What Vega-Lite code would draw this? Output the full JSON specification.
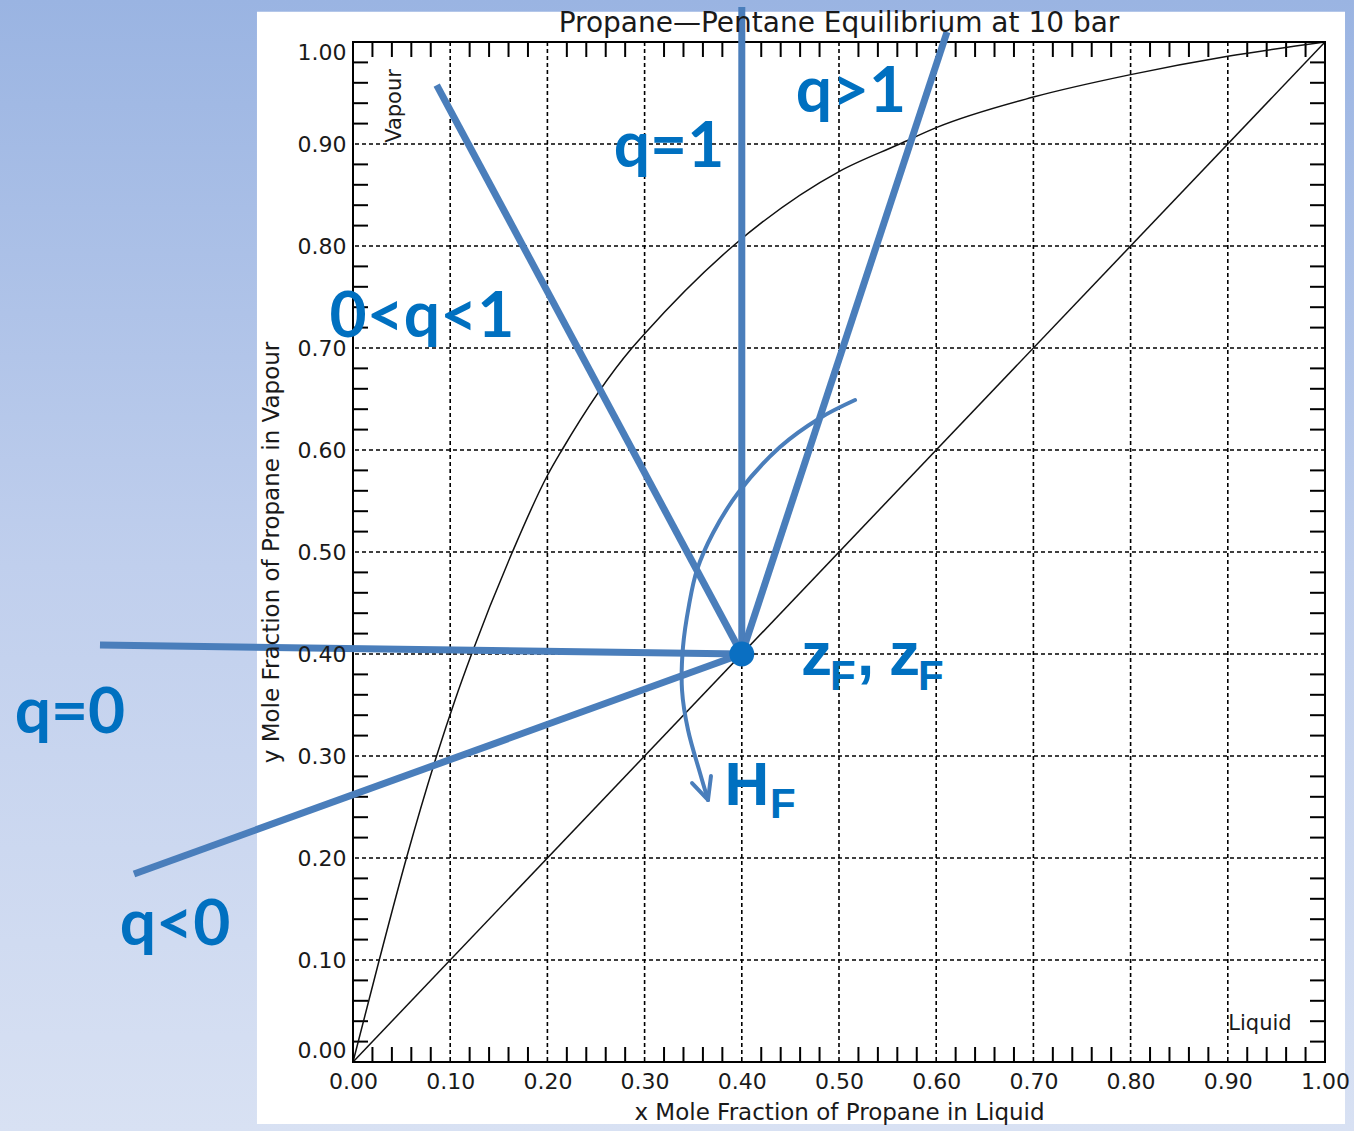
{
  "$schema": "https://vega.github.io/schema/vega-lite/v6.json",
  "width": 972,
  "height": 1020,
  "autosize": {"type": "none"},
  "padding": {"left": 353, "top": 42, "right": 29, "bottom": 69},
  "background": "#c2d1ee",
  "title": {
    "text": "Propane—Pentane Equilibrium at 10 bar",
    "font": "DejaVu Sans",
    "fontSize": 28,
    "fontWeight": "normal",
    "color": "#1a1a1a",
    "anchor": "middle",
    "frame": "group",
    "baseline": "alphabetic",
    "offset": -67,
    "zindex": 1
  },
  "config": {
    "view": {"stroke": null},
    "axis": {
      "domain": false,
      "ticks": false,
      "grid": false,
      "labelFont": "DejaVu Sans",
      "labelFontSize": 22,
      "labelColor": "#1a1a1a",
      "labelOverlap": false,
      "titleFont": "DejaVu Sans",
      "titleFontSize": 23,
      "titleFontWeight": "normal",
      "titleColor": "#1a1a1a",
      "zindex": 1
    }
  },
  "datasets": {
    "grid": [
      {"g": 0.1}, {"g": 0.2}, {"g": 0.3}, {"g": 0.4}, {"g": 0.5},
      {"g": 0.6}, {"g": 0.7}, {"g": 0.8}, {"g": 0.9}
    ],
    "minor": [
      {"t": 0.02}, {"t": 0.04}, {"t": 0.06}, {"t": 0.08},
      {"t": 0.12}, {"t": 0.14}, {"t": 0.16}, {"t": 0.18},
      {"t": 0.22}, {"t": 0.24}, {"t": 0.26}, {"t": 0.28},
      {"t": 0.32}, {"t": 0.34}, {"t": 0.36}, {"t": 0.38},
      {"t": 0.42}, {"t": 0.44}, {"t": 0.46}, {"t": 0.48},
      {"t": 0.52}, {"t": 0.54}, {"t": 0.56}, {"t": 0.58},
      {"t": 0.62}, {"t": 0.64}, {"t": 0.66}, {"t": 0.68},
      {"t": 0.72}, {"t": 0.74}, {"t": 0.76}, {"t": 0.78},
      {"t": 0.82}, {"t": 0.84}, {"t": 0.86}, {"t": 0.88},
      {"t": 0.92}, {"t": 0.94}, {"t": 0.96}, {"t": 0.98}
    ],
    "equilibrium": [
      {"curve": "diagonal", "x": 0, "y": 0},
      {"curve": "diagonal", "x": 1, "y": 1},
      {"curve": "vle", "x": 0, "y": 0},
      {"curve": "vle", "x": 0.027, "y": 0.1},
      {"curve": "vle", "x": 0.055, "y": 0.2},
      {"curve": "vle", "x": 0.086, "y": 0.3},
      {"curve": "vle", "x": 0.105, "y": 0.355},
      {"curve": "vle", "x": 0.122, "y": 0.4},
      {"curve": "vle", "x": 0.164, "y": 0.5},
      {"curve": "vle", "x": 0.2, "y": 0.575},
      {"curve": "vle", "x": 0.215, "y": 0.6},
      {"curve": "vle", "x": 0.287, "y": 0.7},
      {"curve": "vle", "x": 0.3, "y": 0.714},
      {"curve": "vle", "x": 0.391, "y": 0.8},
      {"curve": "vle", "x": 0.5, "y": 0.873},
      {"curve": "vle", "x": 0.5625, "y": 0.9},
      {"curve": "vle", "x": 0.6, "y": 0.916},
      {"curve": "vle", "x": 0.7, "y": 0.946},
      {"curve": "vle", "x": 0.8, "y": 0.968},
      {"curve": "vle", "x": 0.9, "y": 0.986},
      {"curve": "vle", "x": 1, "y": 1}
    ],
    "qlines": [
      {"q": "q=1", "o": 0, "x": 0.4, "y": 1.0343},
      {"q": "q=1", "o": 1, "x": 0.4, "y": 0.4},
      {"q": "q>1", "o": 0, "x": 0.6111, "y": 1.0098},
      {"q": "q>1", "o": 1, "x": 0.4, "y": 0.4},
      {"q": "0<q<1", "o": 0, "x": 0.0861, "y": 0.9578},
      {"q": "0<q<1", "o": 1, "x": 0.4, "y": 0.4},
      {"q": "q=0", "o": 0, "x": -0.2603, "y": 0.4088},
      {"q": "q=0", "o": 1, "x": 0.4, "y": 0.4},
      {"q": "q<0", "o": 0, "x": -0.2253, "y": 0.1843},
      {"q": "q<0", "o": 1, "x": 0.4, "y": 0.4}
    ],
    "arc": [
      {"o": 0, "x": 0.5165, "y": 0.649},
      {"o": 1, "x": 0.4805, "y": 0.6314},
      {"o": 2, "x": 0.4393, "y": 0.6029},
      {"o": 3, "x": 0.3961, "y": 0.5578},
      {"o": 4, "x": 0.3704, "y": 0.5186},
      {"o": 5, "x": 0.3539, "y": 0.4824},
      {"o": 6, "x": 0.3457, "y": 0.448},
      {"o": 7, "x": 0.3395, "y": 0.4069},
      {"o": 8, "x": 0.3385, "y": 0.3647},
      {"o": 9, "x": 0.3447, "y": 0.3255},
      {"o": 10, "x": 0.357, "y": 0.2833},
      {"o": 11, "x": 0.3652, "y": 0.2569}
    ],
    "arrowhead": [
      {"w": "a", "o": 0, "x": 0.3488, "y": 0.2735},
      {"w": "a", "o": 1, "x": 0.3652, "y": 0.2569},
      {"w": "b", "o": 0, "x": 0.3683, "y": 0.2804},
      {"w": "b", "o": 1, "x": 0.3652, "y": 0.2569}
    ],
    "feed": [{"x": 0.4, "y": 0.4}],
    "qlabels": [
      {"label": "q>1", "x": 0.5123, "y": 0.9314},
      {"label": "q=1", "x": 0.3251, "y": 0.8775},
      {"label": "0<q<1", "x": 0.071, "y": 0.7108},
      {"label": "q=0", "x": -0.2912, "y": 0.3225},
      {"label": "q<0", "x": -0.1831, "y": 0.1147}
    ],
    "feedletters": [
      {"label": "z", "x": 0.4609, "y": 0.3794},
      {"label": ",", "x": 0.5185, "y": 0.3794},
      {"label": "z", "x": 0.5514, "y": 0.3794},
      {"label": "H", "x": 0.3822, "y": 0.252}
    ],
    "subscripts": [
      {"label": "F", "x": 0.4907, "y": 0.3647},
      {"label": "F", "x": 0.5813, "y": 0.3647},
      {"label": "F", "x": 0.429, "y": 0.2392}
    ],
    "vapour": [{"label": "Vapour", "x": 0.0432, "y": 0.9373}],
    "liquid": [{"label": "Liquid", "x": 0.9331, "y": 0.0373}]
  },
  "layer": [
    {
      "description": "slide backdrop, exactly covering the canvas",
      "data": {"values": [{}]},
      "mark": {
        "type": "rect",
        "fill": {
          "gradient": "linear",
          "x1": 0, "y1": 0, "x2": 0, "y2": 1,
          "stops": [
            {"offset": 0, "color": "#9ab4e2"},
            {"offset": 0.5, "color": "#c0cfed"},
            {"offset": 1, "color": "#d8e1f3"}
          ]
        }
      },
      "encoding": {
        "x": {"datum": -0.3632, "type": "quantitative", "scale": {"domain": [0, 1], "nice": false}},
        "x2": {"datum": 1.0298},
        "y": {"datum": -0.0676, "type": "quantitative", "scale": {"domain": [0, 1], "nice": false}},
        "y2": {"datum": 1.0412}
      }
    },
    {
      "description": "white chart panel",
      "data": {"values": [{}]},
      "mark": {"type": "rect", "fill": "#ffffff"},
      "encoding": {
        "x": {"datum": -0.0988, "type": "quantitative", "scale": {"domain": [0, 1], "nice": false}},
        "x2": {"datum": 1.0206},
        "y": {"datum": -0.0608, "type": "quantitative", "scale": {"domain": [0, 1], "nice": false}},
        "y2": {"datum": 1.0297}
      }
    },
    {
      "data": {"name": "grid"},
      "mark": {"type": "rule", "color": "#000000", "strokeWidth": 1.6, "strokeDash": [4, 3]},
      "encoding": {
        "x": {"field": "g", "type": "quantitative", "scale": {"domain": [0, 1], "nice": false}}
      }
    },
    {
      "data": {"name": "grid"},
      "mark": {"type": "rule", "color": "#000000", "strokeWidth": 1.6, "strokeDash": [4, 3]},
      "encoding": {
        "y": {"field": "g", "type": "quantitative", "scale": {"domain": [0, 1], "nice": false}}
      }
    },
    {
      "data": {"name": "minor"},
      "mark": {"type": "tick", "orient": "vertical", "size": 15, "thickness": 2, "color": "#000000", "opacity": 1, "yOffset": -7.5},
      "encoding": {
        "x": {"field": "t", "type": "quantitative", "scale": {"domain": [0, 1], "nice": false}},
        "y": {"datum": 0, "type": "quantitative", "scale": {"domain": [0, 1], "nice": false}}
      }
    },
    {
      "data": {"name": "minor"},
      "mark": {"type": "tick", "orient": "vertical", "size": 15, "thickness": 2, "color": "#000000", "opacity": 1, "yOffset": 7.5},
      "encoding": {
        "x": {"field": "t", "type": "quantitative", "scale": {"domain": [0, 1], "nice": false}},
        "y": {"datum": 1, "type": "quantitative", "scale": {"domain": [0, 1], "nice": false}}
      }
    },
    {
      "data": {"name": "minor"},
      "mark": {"type": "tick", "orient": "horizontal", "size": 15, "thickness": 2, "color": "#000000", "opacity": 1, "xOffset": 7.5},
      "encoding": {
        "y": {"field": "t", "type": "quantitative", "scale": {"domain": [0, 1], "nice": false}},
        "x": {"datum": 0, "type": "quantitative", "scale": {"domain": [0, 1], "nice": false}}
      }
    },
    {
      "data": {"name": "minor"},
      "mark": {"type": "tick", "orient": "horizontal", "size": 15, "thickness": 2, "color": "#000000", "opacity": 1, "xOffset": -7.5},
      "encoding": {
        "y": {"field": "t", "type": "quantitative", "scale": {"domain": [0, 1], "nice": false}},
        "x": {"datum": 1, "type": "quantitative", "scale": {"domain": [0, 1], "nice": false}}
      }
    },
    {
      "description": "equilibrium curve and y = x diagonal; carries the axes",
      "data": {"name": "equilibrium"},
      "mark": {"type": "line", "color": "#111111", "strokeWidth": 1.5, "interpolate": "monotone"},
      "encoding": {
        "x": {
          "field": "x", "type": "quantitative",
          "scale": {"domain": [0, 1], "nice": false},
          "title": "x Mole Fraction of Propane in Liquid",
          "axis": {
            "values": [0, 0.1, 0.2, 0.3, 0.4, 0.5, 0.6, 0.7, 0.8, 0.9, 1],
            "format": ".2f",
            "labelFlush": false,
            "labelPadding": 9,
            "titlePadding": 9,
            "zindex": 1
          }
        },
        "y": {
          "field": "y", "type": "quantitative",
          "scale": {"domain": [0, 1], "nice": false},
          "title": "y Mole Fraction of Propane in Vapour",
          "axis": {
            "values": [0, 0.1, 0.2, 0.3, 0.4, 0.5, 0.6, 0.7, 0.8, 0.9, 1],
            "format": ".2f",
            "labelFlush": true,
            "labelPadding": 7,
            "titlePadding": 14,
            "zindex": 1
          }
        },
        "detail": {"field": "curve"}
      }
    },
    {
      "description": "plot frame",
      "data": {"values": [{}]},
      "mark": {"type": "rect", "filled": false, "stroke": "#000000", "strokeWidth": 2},
      "encoding": {
        "x": {"datum": 0, "type": "quantitative", "scale": {"domain": [0, 1], "nice": false}},
        "x2": {"datum": 1},
        "y": {"datum": 0, "type": "quantitative", "scale": {"domain": [0, 1], "nice": false}},
        "y2": {"datum": 1}
      }
    },
    {
      "data": {"name": "vapour"},
      "mark": {"type": "text", "font": "DejaVu Sans", "fontSize": 21, "color": "#1a1a1a", "angle": 270, "align": "center", "baseline": "middle"},
      "encoding": {
        "x": {"field": "x", "type": "quantitative", "scale": {"domain": [0, 1], "nice": false}},
        "y": {"field": "y", "type": "quantitative", "scale": {"domain": [0, 1], "nice": false}},
        "text": {"field": "label"}
      }
    },
    {
      "data": {"name": "liquid"},
      "mark": {"type": "text", "font": "DejaVu Sans", "fontSize": 21, "color": "#1a1a1a", "align": "center", "baseline": "middle"},
      "encoding": {
        "x": {"field": "x", "type": "quantitative", "scale": {"domain": [0, 1], "nice": false}},
        "y": {"field": "y", "type": "quantitative", "scale": {"domain": [0, 1], "nice": false}},
        "text": {"field": "label"}
      }
    },
    {
      "description": "q-lines through the feed point",
      "data": {"name": "qlines"},
      "mark": {"type": "line", "color": "#4a7ebb", "strokeWidth": 7, "strokeCap": "butt"},
      "encoding": {
        "x": {"field": "x", "type": "quantitative", "scale": {"domain": [0, 1], "nice": false}},
        "y": {"field": "y", "type": "quantitative", "scale": {"domain": [0, 1], "nice": false}},
        "detail": {"field": "q"},
        "order": {"field": "o"}
      }
    },
    {
      "description": "feed enthalpy sweep",
      "data": {"name": "arc"},
      "mark": {"type": "line", "color": "#4a7ebb", "strokeWidth": 4, "interpolate": "catmull-rom", "strokeCap": "round"},
      "encoding": {
        "x": {"field": "x", "type": "quantitative", "scale": {"domain": [0, 1], "nice": false}},
        "y": {"field": "y", "type": "quantitative", "scale": {"domain": [0, 1], "nice": false}},
        "order": {"field": "o"}
      }
    },
    {
      "data": {"name": "arrowhead"},
      "mark": {"type": "line", "color": "#4a7ebb", "strokeWidth": 4, "strokeCap": "round"},
      "encoding": {
        "x": {"field": "x", "type": "quantitative", "scale": {"domain": [0, 1], "nice": false}},
        "y": {"field": "y", "type": "quantitative", "scale": {"domain": [0, 1], "nice": false}},
        "detail": {"field": "w"},
        "order": {"field": "o"}
      }
    },
    {
      "data": {"name": "feed"},
      "mark": {"type": "point", "filled": true, "color": "#0a6fc2", "opacity": 1, "size": 620},
      "encoding": {
        "x": {"field": "x", "type": "quantitative", "scale": {"domain": [0, 1], "nice": false}},
        "y": {"field": "y", "type": "quantitative", "scale": {"domain": [0, 1], "nice": false}}
      }
    },
    {
      "data": {"name": "qlabels"},
      "mark": {"type": "text", "font": "Lato", "fontWeight": "bold", "fontSize": 64, "color": "#0070c0", "align": "center", "baseline": "alphabetic"},
      "encoding": {
        "x": {"field": "x", "type": "quantitative", "scale": {"domain": [0, 1], "nice": false}},
        "y": {"field": "y", "type": "quantitative", "scale": {"domain": [0, 1], "nice": false}},
        "text": {"field": "label"}
      }
    },
    {
      "data": {"name": "feedletters"},
      "mark": {"type": "text", "font": "Liberation Sans", "fontWeight": "bold", "fontSize": 62, "color": "#0070c0", "align": "left", "baseline": "alphabetic"},
      "encoding": {
        "x": {"field": "x", "type": "quantitative", "scale": {"domain": [0, 1], "nice": false}},
        "y": {"field": "y", "type": "quantitative", "scale": {"domain": [0, 1], "nice": false}},
        "text": {"field": "label"}
      }
    },
    {
      "data": {"name": "subscripts"},
      "mark": {"type": "text", "font": "Liberation Sans", "fontWeight": "bold", "fontSize": 42, "color": "#0070c0", "align": "left", "baseline": "alphabetic"},
      "encoding": {
        "x": {"field": "x", "type": "quantitative", "scale": {"domain": [0, 1], "nice": false}},
        "y": {"field": "y", "type": "quantitative", "scale": {"domain": [0, 1], "nice": false}},
        "text": {"field": "label"}
      }
    }
  ]
}
